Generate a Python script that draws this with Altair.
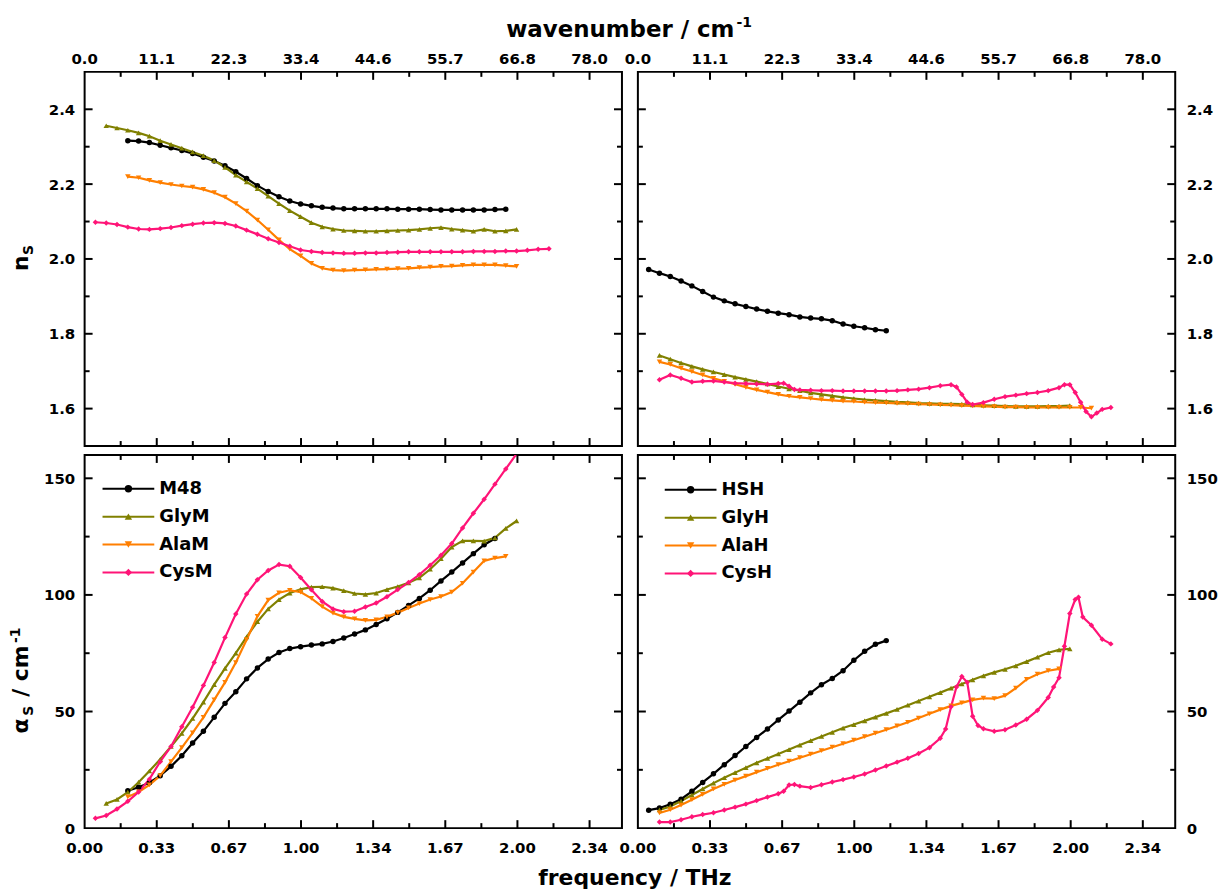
import altair as alt
import pandas as pd

FONT = "DejaVu Sans"
W = 540
H_TOP = 376
H_BOT = 375
X_DOMAIN = [0.0, 2.488]

# frequency grid (THz) shared by most curves
GRID = [0.05, 0.10, 0.15, 0.20, 0.25, 0.30, 0.35, 0.40, 0.45, 0.50, 0.55,
        0.60, 0.65, 0.70, 0.75, 0.80, 0.85, 0.90, 0.95, 1.00, 1.05, 1.10,
        1.15, 1.20, 1.25, 1.30, 1.35, 1.40, 1.45, 1.50, 1.55, 1.60, 1.65,
        1.70, 1.75, 1.80, 1.85, 1.90, 1.95, 2.00, 2.05, 2.10, 2.15, 2.20]

X_MAJOR = [0.0, 0.334, 0.668, 1.002, 1.336, 1.670, 2.004, 2.338]
X_MINOR = [0.167, 0.501, 0.835, 1.169, 1.503, 1.837, 2.171]
N_LABELS = [1.6, 1.8, 2.0, 2.2, 2.4]
N_MAJOR = [1.6, 1.8, 2.0, 2.2, 2.4]
N_MINOR = [1.7, 1.9, 2.1, 2.3]
A_LABELS = [0, 50, 100, 150]
A_MAJOR = [50, 100, 150]
A_MINOR = [25, 75, 125]
N_DOMAIN = [1.5, 2.5]
A_DOMAIN = [0, 160]

M_NAMES = ["M48", "GlyM", "AlaM", "CysM"]
H_NAMES = ["HSH", "GlyH", "AlaH", "CysH"]
COLORS = ["#000000", "#808000", "#ff7f00", "#ff1477"]
SHAPES = ["circle", "triangle-up", "triangle-down", "diamond"]

# ---- refractive index n_S, M series (start frequency, values on GRID)
N_M48 = (0.20, [2.316, 2.315, 2.311, 2.304, 2.297, 2.290, 2.282, 2.272, 2.262, 2.249,
                2.233, 2.215, 2.196, 2.180, 2.166, 2.155, 2.147, 2.142, 2.138, 2.136,
                2.134, 2.134, 2.134, 2.134, 2.134, 2.133, 2.133, 2.133, 2.132, 2.131,
                2.131, 2.131, 2.131, 2.131, 2.132, 2.133])
N_GLYM = (0.10, [2.356, 2.350, 2.344, 2.337, 2.328, 2.316, 2.306, 2.296, 2.286, 2.276,
                 2.263, 2.245, 2.224, 2.206, 2.188, 2.168, 2.148, 2.129, 2.113, 2.097,
                 2.086, 2.080, 2.076, 2.075, 2.074, 2.074, 2.075, 2.076, 2.077, 2.079,
                 2.082, 2.084, 2.080, 2.077, 2.074, 2.079, 2.074, 2.075, 2.079])
N_ALAM = (0.20, [2.220, 2.217, 2.210, 2.204, 2.199, 2.195, 2.192, 2.186, 2.177, 2.165,
                 2.148, 2.128, 2.104, 2.078, 2.051, 2.026, 2.008, 1.988, 1.975, 1.970,
                 1.969, 1.970, 1.971, 1.972, 1.973, 1.974, 1.975, 1.977, 1.978, 1.980,
                 1.981, 1.983, 1.984, 1.984, 1.984, 1.982, 1.980])
N_CYSM = (0.05, [2.098, 2.096, 2.092, 2.085, 2.080, 2.079, 2.081, 2.084, 2.089, 2.093,
                 2.096, 2.097, 2.095, 2.088, 2.077, 2.066, 2.054, 2.044, 2.034, 2.024,
                 2.020, 2.017, 2.016, 2.015, 2.015, 2.016, 2.016, 2.017, 2.018, 2.019,
                 2.019, 2.019, 2.019, 2.019, 2.019, 2.020, 2.020, 2.020, 2.021, 2.021,
                 2.023, 2.026, 2.027])

# ---- refractive index n_S, H series
N_HSH = (0.05, [1.972, 1.962, 1.953, 1.941, 1.928, 1.913, 1.898, 1.888, 1.880, 1.873,
                1.866, 1.860, 1.855, 1.851, 1.845, 1.842, 1.840, 1.835, 1.826, 1.820,
                1.816, 1.811, 1.808])
N_GLYH = (0.10, [1.742, 1.732, 1.722, 1.713, 1.705, 1.698, 1.691, 1.684, 1.678, 1.672,
                 1.666, 1.659, 1.653, 1.648, 1.642, 1.638, 1.634, 1.630, 1.627, 1.624,
                 1.622, 1.620, 1.618, 1.617, 1.615, 1.614, 1.613, 1.613, 1.612, 1.610,
                 1.609, 1.608, 1.607, 1.606, 1.606, 1.606, 1.607, 1.607, 1.608])
N_ALAH = (0.10, [1.725, 1.718, 1.708, 1.699, 1.690, 1.681, 1.673, 1.665, 1.657, 1.650,
                 1.644, 1.638, 1.633, 1.630, 1.627, 1.624, 1.622, 1.620, 1.619, 1.617,
                 1.616, 1.615, 1.614, 1.613, 1.612, 1.611, 1.610, 1.609, 1.608, 1.607,
                 1.606, 1.605, 1.604, 1.604, 1.603, 1.603, 1.603, 1.603, 1.603, 1.603,
                 1.601])
N_CYSH_F = [0.10, 0.15, 0.20, 0.25, 0.30, 0.35, 0.40, 0.45, 0.50, 0.55, 0.60, 0.65,
            0.675, 0.70, 0.725, 0.75, 0.80, 0.85, 0.90, 0.95, 1.00, 1.05, 1.10, 1.15,
            1.20, 1.25, 1.30, 1.35, 1.40, 1.45, 1.475, 1.50, 1.525, 1.55, 1.60, 1.65,
            1.70, 1.75, 1.80, 1.85, 1.90, 1.95, 1.975, 2.00, 2.025, 2.05, 2.075, 2.10,
            2.125, 2.15, 2.19]
N_CYSH_V = [1.677, 1.690, 1.681, 1.671, 1.673, 1.674, 1.671, 1.668, 1.667, 1.666, 1.665, 1.667,
            1.668, 1.660, 1.651, 1.650, 1.649, 1.648, 1.648, 1.647, 1.647, 1.647, 1.647, 1.647,
            1.648, 1.650, 1.652, 1.656, 1.661, 1.664, 1.658, 1.638, 1.617, 1.611, 1.616, 1.625,
            1.632, 1.636, 1.640, 1.643, 1.648, 1.656, 1.664, 1.664, 1.643, 1.617, 1.592, 1.578,
            1.588, 1.598, 1.603]

# ---- absorption alpha_S (cm^-1), M series
A_M48 = (0.20, [16.0, 17.5, 19.5, 22.5, 26.5, 31.0, 36.5, 41.5, 47.5, 53.5,
                58.5, 64.0, 68.7, 72.5, 75.3, 77.0, 77.8, 78.5, 79.0, 80.0,
                81.5, 83.2, 85.0, 87.3, 89.8, 92.5, 95.5, 98.5, 102.0, 106.0,
                109.8, 113.7, 117.7, 121.5, 124.2])
A_GLYM = (0.10, [10.6, 12.3, 15.4, 19.7, 24.5, 29.5, 35.0, 40.6, 47.0, 54.0,
                 61.5, 68.5, 75.0, 82.0, 88.5, 94.0, 98.0, 100.8, 102.4, 103.3,
                 103.5, 102.9, 101.8, 100.6, 100.2, 100.8, 102.3, 103.6, 105.2, 107.3,
                 111.0, 115.5, 120.5, 123.2, 123.2, 123.1, 124.5, 128.5, 131.7])
A_ALAM = (0.20, [13.4, 15.5, 18.5, 22.5, 28.5, 34.5, 40.8, 47.5, 55.0, 62.5,
                 71.0, 80.8, 90.8, 97.8, 100.9, 102.0, 101.2, 98.5, 95.0, 92.2,
                 90.6, 89.7, 89.1, 89.3, 90.6, 92.4, 94.4, 96.3, 98.0, 99.3,
                 101.2, 105.0, 109.8, 114.6, 115.8, 116.5])
A_CYSM = (0.05, [4.2, 5.4, 8.2, 11.5, 15.5, 21.0, 28.5, 35.0, 43.5, 51.8,
                 61.2, 71.0, 81.7, 91.8, 100.4, 106.5, 110.5, 113.0, 112.3, 107.5,
                 102.2, 97.2, 94.0, 92.8, 93.0, 94.8, 96.5, 99.2, 102.3, 105.3,
                 108.7, 112.7, 117.0, 122.0, 128.7, 135.0, 141.0, 147.5, 154.0, 160.5])

# ---- absorption alpha_S (cm^-1), H series
A_HSH = (0.05, [7.7, 8.6, 10.2, 12.4, 15.8, 19.6, 23.3, 27.2, 31.1, 35.0,
                38.9, 42.5, 46.4, 50.2, 54.0, 58.0, 61.5, 64.2, 67.5, 72.0,
                75.8, 78.8, 80.4])
A_GLYH = (0.10, [7.8, 9.3, 11.6, 14.2, 16.8, 19.3, 21.6, 23.8, 25.9, 28.0,
                 29.9, 31.8, 33.7, 35.6, 37.5, 39.3, 41.1, 42.9, 44.4, 46.0,
                 47.6, 49.2, 50.9, 52.7, 54.5, 56.3, 58.1, 60.0, 61.8, 63.6,
                 65.3, 66.8, 68.1, 69.6, 71.4, 73.3, 75.2, 76.4, 76.9])
A_ALAH = (0.10, [6.5, 7.9, 9.9, 12.2, 14.5, 16.8, 18.8, 20.6, 22.3, 24.0,
                 25.6, 27.2, 28.7, 30.2, 31.7, 33.2, 34.7, 36.2, 37.7, 39.2,
                 40.7, 42.2, 43.8, 45.4, 47.2, 49.0, 50.8, 52.4, 53.7, 55.0,
                 55.7, 55.5, 56.8, 60.0, 63.8, 66.0, 67.5, 68.3])
A_CYSH_F = [0.10, 0.15, 0.20, 0.25, 0.30, 0.35, 0.40, 0.45, 0.50, 0.55, 0.60, 0.65,
            0.675, 0.70, 0.725, 0.75, 0.80, 0.85, 0.90, 0.95, 1.00, 1.05, 1.10, 1.15,
            1.20, 1.25, 1.30, 1.35, 1.40, 1.425, 1.45, 1.475, 1.50, 1.525, 1.55, 1.575,
            1.60, 1.65, 1.70, 1.75, 1.80, 1.85, 1.90, 1.925, 1.95, 1.975, 2.00, 2.025,
            2.04, 2.06, 2.10, 2.15, 2.19]
A_CYSH_V = [2.6, 2.6, 3.6, 4.9, 5.8, 6.6, 7.8, 9.0, 10.3, 11.8, 13.3, 14.7,
            15.8, 18.5, 18.7, 18.0, 17.4, 18.6, 19.8, 20.8, 21.9, 23.2, 24.9, 26.6,
            28.3, 30.0, 32.0, 34.5, 38.5, 42.5, 52.0, 60.5, 65.0, 62.5, 48.0, 44.0,
            42.6, 41.5, 42.2, 44.2, 46.7, 50.5, 56.0, 60.5, 64.5, 78.0, 92.0, 98.0,
            99.0, 90.5, 87.0, 81.0, 79.0]


def on_grid(spec):
    start, vals = spec
    i = min(range(len(GRID)), key=lambda k: abs(GRID[k] - start))
    return GRID[i:i + len(vals)], vals


def build_df(names, curves):
    rows = []
    for name, (fs, vs) in zip(names, curves):
        for f, v in zip(fs, vs):
            rows.append({"series": name, "f": f, "v": v})
    return pd.DataFrame(rows)


def label(text, x, y, size, align="left", angle=None):
    kw = dict(align=align, baseline="alphabetic", font=FONT, fontSize=size,
              fontWeight="bold", color="black")
    if angle is not None:
        kw["angle"] = angle
    return alt.Chart(pd.DataFrame({"t": [text]})).mark_text(**kw).encode(
        text="t:N", x=alt.value(x), y=alt.value(y))


def panel(names, curves, ydom, ylabels, ymaj, ymin, yfmt, H, top, left, leg=None, extra=()):
    xs = alt.Scale(domain=X_DOMAIN, nice=False, zero=False)
    ys = alt.Scale(domain=ydom, nice=False, zero=False)
    cs = alt.Scale(domain=names, range=COLORS)
    ss = alt.Scale(domain=names, range=SHAPES)
    df = build_df(names, curves)

    yaxis = alt.Axis(orient="left" if left else "right", values=ylabels, format=yfmt,
                     ticks=False, tickSize=0, domain=False, grid=False,
                     labelPadding=10 if left else 11, labelFlush=False,
                     labelOverlap=False, title=None)

    base = alt.Chart(df)
    line = base.mark_line(strokeWidth=2.2, clip=True).encode(
        x=alt.X("f:Q", scale=xs, axis=None),
        y=alt.Y("v:Q", scale=ys, axis=yaxis),
        color=alt.Color("series:N", scale=cs, legend=None))
    pts = base.mark_point(filled=True, size=30, opacity=1, clip=True).encode(
        x=alt.X("f:Q", scale=xs, axis=None),
        y=alt.Y("v:Q", scale=ys, axis=None),
        color=alt.Color("series:N", scale=cs, legend=None),
        shape=alt.Shape("series:N", scale=ss, legend=None))

    layers = [line, pts]

    # x tick labels (wavenumber on top row, frequency on bottom row)
    if top:
        xl = alt.Chart(pd.DataFrame({"f": X_MAJOR})).transform_calculate(
            lab="format(datum.f * 33.356, '.1f')").mark_text(
            align="center", baseline="alphabetic", font=FONT, fontSize=15,
            fontWeight="bold", color="black").encode(
            x=alt.X("f:Q", scale=xs, axis=None), y=alt.value(-8), text="lab:N")
    else:
        xl = alt.Chart(pd.DataFrame({"f": X_MAJOR})).transform_calculate(
            lab="format(datum.f, '.2f')").mark_text(
            align="center", baseline="alphabetic", font=FONT, fontSize=15,
            fontWeight="bold", color="black").encode(
            x=alt.X("f:Q", scale=xs, axis=None), y=alt.value(H + 25), text="lab:N")
    layers.append(xl)

    def xt(vals, ln, at_top):
        d = pd.DataFrame({"f": vals})
        if at_top:
            yy, yy2 = alt.value(0), alt.value(ln)
        else:
            yy, yy2 = alt.value(H), alt.value(H - ln)
        return alt.Chart(d).mark_rule(strokeWidth=2, color="black").encode(
            x=alt.X("f:Q", scale=xs, axis=None), y=yy, y2=yy2)

    def yt(vals, ln, at_left):
        d = pd.DataFrame({"v": vals})
        if at_left:
            xx, xx2 = alt.value(0), alt.value(ln)
        else:
            xx, xx2 = alt.value(W), alt.value(W - ln)
        return alt.Chart(d).mark_rule(strokeWidth=2, color="black").encode(
            y=alt.Y("v:Q", scale=ys, axis=None), x=xx, x2=xx2)

    for at in (True, False):
        layers += [xt(X_MAJOR[1:], 8, at), xt(X_MINOR, 5, at),
                   yt(ymaj, 8, at), yt(ymin, 5, at)]

    if leg is not None:
        lx, ly = leg
        ldf = pd.DataFrame({"series": names, "py": [ly + 28 * i for i in range(len(names))]})
        lb = alt.Chart(ldf)
        yl = alt.Y("py:Q", scale=None, axis=None)
        layers += [
            lb.mark_rule(strokeWidth=2).encode(
                x=alt.value(lx), x2=alt.value(lx + 52), y=yl,
                color=alt.Color("series:N", scale=cs, legend=None)),
            lb.mark_point(filled=True, size=55, opacity=1).encode(
                x=alt.value(lx + 26), y=yl,
                color=alt.Color("series:N", scale=cs, legend=None),
                shape=alt.Shape("series:N", scale=ss, legend=None)),
            lb.mark_text(align="left", baseline="middle", font=FONT, fontSize=18,
                         fontWeight="bold", color="black").encode(
                x=alt.value(lx + 57), y=yl, text="series:N"),
        ]
    layers += list(extra)
    return alt.layer(*layers).resolve_scale(y="independent").properties(width=W, height=H)


TL = panel(M_NAMES, [on_grid(N_M48), on_grid(N_GLYM), on_grid(N_ALAM), on_grid(N_CYSM)],
           N_DOMAIN, N_LABELS, N_MAJOR, N_MINOR, ".1f", H_TOP, top=True, left=True,
           extra=[label("n", -57, 200, 22, angle=270),
                  label("S", -52, 184, 14, angle=270)])
TR = panel(H_NAMES, [on_grid(N_HSH), on_grid(N_GLYH), on_grid(N_ALAH), (N_CYSH_F, N_CYSH_V)],
           N_DOMAIN, N_LABELS, N_MAJOR, N_MINOR, ".1f", H_TOP, top=True, left=False,
           extra=[label("wavenumber / cm", 97, -35, 23, align="right"),
                  label("-1", 99, -45, 14)])
BL = panel(M_NAMES, [on_grid(A_M48), on_grid(A_GLYM), on_grid(A_ALAM), on_grid(A_CYSM)],
           A_DOMAIN, A_LABELS, A_MAJOR, A_MINOR, "d", H_BOT, top=False, left=True, leg=(18, 34),
           extra=[label("α", -57, 280, 22, angle=270),
                  label("S", -52, 262, 14, angle=270),
                  label("/ cm", -57, 243, 22, angle=270),
                  label("-1", -65, 189, 14, angle=270)])
BR = panel(H_NAMES, [on_grid(A_HSH), on_grid(A_GLYH), on_grid(A_ALAH), (A_CYSH_F, A_CYSH_V)],
           A_DOMAIN, A_LABELS, A_MAJOR, A_MINOR, "d", H_BOT, top=False, left=False, leg=(27, 35),
           extra=[label("frequency / THz", -3, H_BOT + 57, 22, align="center")])

chart = alt.concat(TL, TR, BL, BR, columns=2,
                   spacing=alt.RowColnumber(row=9, column=16)).properties(
    bounds="flush", align="all",
    padding={"left": 0, "top": 5, "right": 0, "bottom": 0},
).configure_view(stroke="black", strokeWidth=2).configure_axis(
    labelFont=FONT, labelFontSize=15, labelFontWeight="bold", labelColor="black")

chart.save("out.html", embed_options={"renderer": "svg", "actions": False})
